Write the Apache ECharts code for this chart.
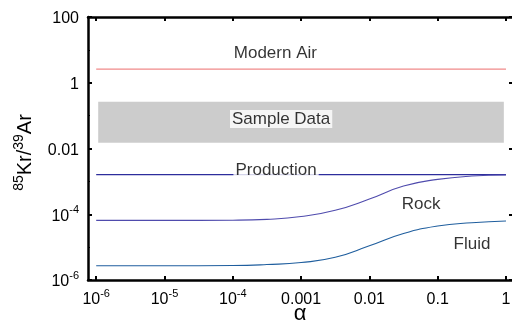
<!DOCTYPE html>
<html>
<head>
<meta charset="utf-8">
<script src="https://cdn.jsdelivr.net/npm/echarts@6/dist/echarts.min.js"></script>
<style>html,body{margin:0;padding:0;background:#fff;}#c{width:512px;height:325px;}</style>
</head>
<body>
<div id="c"></div>
<script>
// ---- data ----
const alpha = [1e-6, 1e-5, 1e-4, 3.16e-4, 1e-3, 3.16e-3, 1e-2, 3.16e-2, 1e-1, 3.16e-1, 1];
const rock  = [6.5e-5, 6.5e-5, 6.6e-5, 7.0e-5, 8.5e-5, 1.32e-4, 2.9e-4, 7.2e-4, 1.15e-3, 1.45e-3, 1.56e-3];
const fluid = [2.7e-6, 2.7e-6, 2.75e-6, 2.95e-6, 3.4e-6, 4.9e-6, 1.1e-5, 2.6e-5, 4.4e-5, 5.5e-5, 6.2e-5];
const flatAlpha = [1e-6, 1];
const production = [1.6e-3, 1.6e-3];
const modernAir = [2.6, 2.6];
const sampleRange = [0.015, 0.265];
const sampleAlpha = [1.07e-6, 0.93];
const xTickExp = [-6, -5, -4, -3, -2, -1, 0];
const xTickLabels = ['10^-6', '10^-5', '10^-4', '0.001', '0.01', '0.1', '1'];
const yTickExp = [-6, -4, -2, 0, 2];
const yTickLabels = ['10^-6', '10^-4', '0.01', '1', '100'];
const annotations = [
  {name: 'Modern Air', alpha: 4.2e-4, ratio: 8.0},
  {name: 'Sample Data', alpha: 5.1e-4, ratio: 0.079},
  {name: 'Production', alpha: 4.3e-4, ratio: 2.2e-3},
  {name: 'Rock', alpha: 0.057, ratio: 2.05e-4},
  {name: 'Fluid', alpha: 0.318, ratio: 1.24e-5}
];

const L = Math.log10;
const pts = (xs, ys) => xs.map((x, i) => [L(x), L(ys[i])]);
function fmt(s) {
  const m = s.split('^');
  return m.length === 2 ? '{b|' + m[0] + '}{s|' + m[1] + '}' : '{b|' + s + '}';
}
const FONT = 'Liberation Sans';
const rich = {
  b: {fontSize: 16, fontFamily: FONT, color: '#000', lineHeight: 20, verticalAlign: 'bottom'},
  s: {fontSize: 11, fontFamily: FONT, color: '#000', lineHeight: 11, verticalAlign: 'top'}
};
const xMap = {}; xTickExp.forEach((e, i) => xMap[e] = xTickLabels[i]);
const yMap = {}; yTickExp.forEach((e, i) => yMap[e] = yTickLabels[i]);

const chart = echarts.init(document.getElementById('c'), null, {renderer: 'canvas'});
const axisLine = {show: true, onZero: false, lineStyle: {color: '#000', width: 2.5}};
chart.setOption({
  animation: false,
  backgroundColor: '#fff',
  grid: {left: 88, right: 0, top: 17, bottom: 45, containLabel: false, outerBoundsMode: 'none'},
  xAxis: [{
    type: 'value', min: -6.12, max: 0.088, position: 'bottom',
    axisLine: axisLine,
    axisTick: {show: true, inside: true, length: 4, lineStyle: {width: 2, color: '#000'}, customValues: xTickExp},
    axisLabel: {margin: 8, customValues: xTickExp, formatter: v => fmt(xMap[Math.round(v)] || ''), rich: rich},
    splitLine: {show: false},
    name: 'α', nameLocation: 'middle', nameGap: 23, nameMoveOverlap: false,
    nameTextStyle: {fontSize: 22, fontFamily: FONT, color: '#000', verticalAlign: 'top'}
  }, {
    type: 'value', min: -6.12, max: 0.088, position: 'top',
    axisLine: axisLine,
    axisTick: {show: true, inside: true, length: 4, lineStyle: {width: 2, color: '#000'}, customValues: xTickExp},
    axisLabel: {show: false},
    splitLine: {show: false}
  }],
  yAxis: [{
    type: 'value', min: -6, max: 2, interval: 2, position: 'left',
    axisLine: axisLine,
    axisTick: {show: true, inside: true, length: 4, lineStyle: {width: 2, color: '#000'}},
    minorTick: {show: true, splitNumber: 2, length: 2, lineStyle: {color: '#000', width: 1}},
    axisLabel: {margin: 9, formatter: v => fmt(yMap[Math.round(v)] || ''), rich: rich},
    splitLine: {show: false},
    name: '{s|85}{b|Kr/}{s|39}{b|Ar}', nameLocation: 'middle', nameGap: 53, nameRotate: 90, nameMoveOverlap: false,
    nameTextStyle: {
      padding: [0, 8, 0, 0],
      rich: {
        b: {fontSize: 20, fontFamily: FONT, color: '#000', lineHeight: 23, verticalAlign: 'bottom'},
        s: {fontSize: 14, fontFamily: FONT, color: '#000', lineHeight: 14, verticalAlign: 'top'}
      }
    }
  }, {
    type: 'value', min: -6, max: 2, interval: 2, position: 'right',
    axisLine: {show: false, onZero: false},
    axisTick: {show: true, inside: true, length: 3, lineStyle: {width: 2, color: '#000'}},
    axisLabel: {show: false},
    splitLine: {show: false}
  }],
  series: [
    {
      type: 'line', name: 'Modern Air', data: pts(flatAlpha, modernAir), symbol: 'none',
      lineStyle: {color: '#f08a8a', width: 1.2}, z: 3,
      markArea: {
        silent: true, itemStyle: {color: '#cccccc'},
        data: [[{coord: [L(sampleAlpha[0]), L(sampleRange[1])]}, {coord: [L(sampleAlpha[1]), L(sampleRange[0])]}]]
      }
    },
    {type: 'line', name: 'Production', data: pts(flatAlpha, production), symbol: 'none',
      lineStyle: {color: '#2d2d9c', width: 1.2}, z: 3},
    {type: 'line', name: 'Rock', data: pts(alpha, rock), symbol: 'none', smooth: 0.5,
      lineStyle: {color: '#4f4bad', width: 1.1}, z: 3},
    {type: 'line', name: 'Fluid', data: pts(alpha, fluid), symbol: 'none', smooth: 0.5,
      lineStyle: {color: '#1f5e9e', width: 1.1}, z: 3},
    {
      type: 'scatter', symbolSize: 1, itemStyle: {color: 'rgba(0,0,0,0)'}, z: 10, silent: true,
      data: annotations.map(a => {
        const bg = (a.name === 'Sample Data' || a.name === 'Production');
        return {
          name: a.name, value: [L(a.alpha), L(a.ratio)],
          label: {
            show: true, position: 'inside', formatter: '{b}', color: '#000',
            fontSize: 17, fontFamily: FONT,
            backgroundColor: bg ? '#fff' : 'transparent', padding: bg ? [1, 2, 0, 2] : 0
          }
        };
      })
    }
  ]
});
</script>
</body>
</html>
